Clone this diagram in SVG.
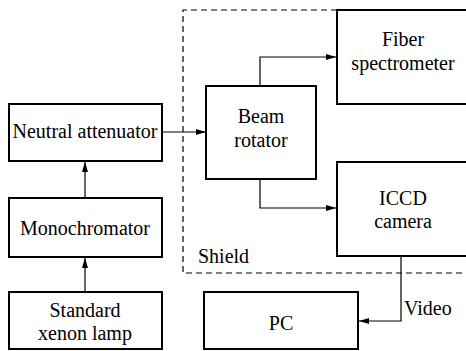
<svg xmlns="http://www.w3.org/2000/svg" width="466" height="351" viewBox="0 0 466 351" font-family="'Liberation Serif', 'DejaVu Serif', serif" font-size="20">
  <style>
    .box { fill: #ffffff; stroke: #000000; stroke-width: 2; }
    .wire { fill: none; stroke: #000000; stroke-width: 1.2; }
    .shield { fill: none; stroke: #000000; stroke-width: 1.2; stroke-dasharray: 6 4; }
    .lbl { font-family: 'Liberation Serif', 'DejaVu Serif', serif; font-size: 20px; fill: #000000; }
    .c { text-anchor: middle; }
  </style>
  <defs>
    <marker id="arrow" viewBox="0 0 10 6" refX="10" refY="3" markerWidth="10" markerHeight="6" markerUnits="userSpaceOnUse" orient="auto">
      <path d="M0,0 L10,3 L0,6 Z" fill="#000000"/>
    </marker>
  </defs>

  <!-- shielded enclosure -->
  <g id="shield">
    <path class="shield" d="M467,10 H183 V273 H467"/>
    <text class="lbl" x="198" y="263">Shield</text>
  </g>

  <g id="connectors">
    <line class="wire" x1="85" y1="292" x2="85" y2="258" marker-end="url(#arrow)"/>
    <line class="wire" x1="85" y1="198" x2="85" y2="162" marker-end="url(#arrow)"/>
    <line class="wire" x1="162" y1="132" x2="206" y2="132" marker-end="url(#arrow)"/>
    <path class="wire" d="M260,86 V57 H336" marker-end="url(#arrow)"/>
    <path class="wire" d="M260,179 V208 H336" marker-end="url(#arrow)"/>
    <path class="wire" d="M401,256 V321 H359" marker-end="url(#arrow)"/>
    <text class="lbl" x="404" y="315">Video</text>
  </g>

  <g id="xenon-lamp">
    <rect class="box" x="9" y="292" width="153" height="57"/>
    <text class="lbl c" x="85" y="317">Standard</text>
    <text class="lbl c" x="85" y="340">xenon lamp</text>
  </g>

  <g id="monochromator">
    <rect class="box" x="9" y="198" width="153" height="59"/>
    <text class="lbl c" x="85" y="235">Monochromator</text>
  </g>

  <g id="neutral-attenuator">
    <rect class="box" x="9" y="104" width="153" height="57"/>
    <text class="lbl c" x="85" y="138">Neutral attenuator</text>
  </g>

  <g id="beam-rotator">
    <rect class="box" x="206" y="86" width="110" height="93"/>
    <text class="lbl c" x="261" y="123">Beam</text>
    <text class="lbl c" x="261" y="147">rotator</text>
  </g>

  <g id="fiber-spectrometer">
    <rect class="box" x="337" y="10" width="131" height="94"/>
    <text class="lbl c" x="403" y="46">Fiber</text>
    <text class="lbl c" x="403" y="70">spectrometer</text>
  </g>

  <g id="iccd-camera">
    <rect class="box" x="337" y="162" width="131" height="94"/>
    <text class="lbl c" x="403" y="205">ICCD</text>
    <text class="lbl c" x="403" y="228">camera</text>
  </g>

  <g id="pc">
    <rect class="box" x="204" y="292" width="154" height="57"/>
    <text class="lbl c" x="281" y="330">PC</text>
  </g>
</svg>
